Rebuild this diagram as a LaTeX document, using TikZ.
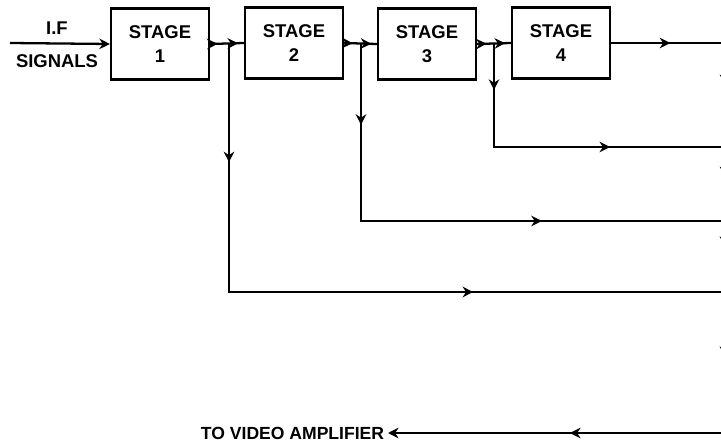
\documentclass[tikz,border=0pt]{standalone}
\usepackage{fontspec}
\setmainfont{Liberation Sans}
\usetikzlibrary{arrows.meta,decorations.markings}

\tikzset{
  stagebox/.style={draw, line width=1.3pt, minimum width=1.96cm, minimum height=1.42cm,
    align=center, inner sep=0pt, font=\bfseries\fontsize{10.5}{14}\selectfont},
  sig/.style={line width=1.3pt},
  tip/.style={-{Stealth[length=6pt,width=6pt]}},
  midtip/.style={postaction={decorate, decoration={markings,
    mark=at position #1 with {\arrow{Stealth[length=6pt,width=6pt]}}}}},
  lbl/.style={font=\bfseries\fontsize{10.5}{12}\selectfont, inner sep=2pt}
}

\begin{document}
\begin{tikzpicture}[x=0.02cm, y=-0.02cm]
  \useasboundingbox (0,0) rectangle (721,446);

  % stages
  \node[stagebox] (s1) at (160,44) {STAGE\\1};
  \node[stagebox] (s2) at (294,43) {STAGE\\2};
  \node[stagebox] (s3) at (427,44) {STAGE\\3};
  \node[stagebox] (s4) at (561,43) {STAGE\\4};

  % input
  \coordinate (in) at (10,43);
  \node[lbl] (iflabel) at (57,28) {I.F};
  \node[lbl] (siglabel) at (57,61) {SIGNALS};
  \draw[sig, tip] (in) -- (s1.west);

  % chain between stages
  \coordinate (j1) at (229,43);
  \coordinate (j2) at (361,43);
  \coordinate (j3) at (494,43);
  \draw[sig, midtip=0.22, midtip=0.83] (s1.east) -- (s2.west);
  \draw[sig, midtip=0.26, midtip=0.83] (s2.east) -- (s3.west);
  \draw[sig, midtip=0.28, midtip=0.83] (s3.east) -- (s4.west);

  % branches to the right
  \coordinate (b1) at (229,292);
  \coordinate (b2) at (361,221);
  \coordinate (b3) at (494,147);
  \coordinate (r0) at (725,43);
  \coordinate (r1) at (725,292);
  \coordinate (r2) at (725,221);
  \coordinate (r3) at (725,147);
  \coordinate (r4) at (725,433);
  \draw[sig, midtip=0.16, midtip=0.662] (j1) -- (b1) -- (r1);
  \draw[sig, midtip=0.151, midtip=0.662] (j2) -- (b2) -- (r2);
  \draw[sig, midtip=0.14, midtip=0.657] (j3) -- (b3) -- (r3);
  \draw[sig, midtip=0.52] (s4.east) -- (r0);
  \draw[sig, midtip=0.108, midtip=0.344, midtip=0.523, midtip=0.805] (r0) -- (r4);

  % output
  \node[lbl, anchor=east, font=\bfseries\fontsize{10}{12}\selectfont] (video) at (388,433) {TO VIDEO AMPLIFIER};
  \draw[sig, tip, midtip=0.46] (r4) -- (video.east);
\end{tikzpicture}
\end{document}
